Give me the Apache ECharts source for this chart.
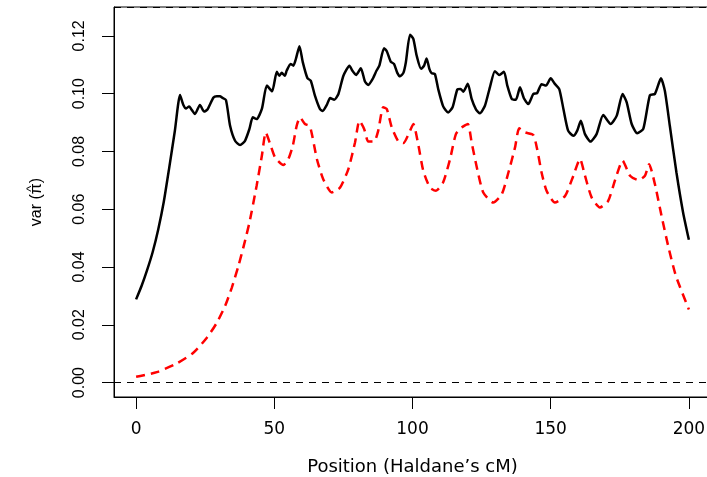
<!DOCTYPE html>
<html>
<head>
<meta charset="utf-8">
<script src="https://cdn.jsdelivr.net/npm/echarts@6/dist/echarts.min.js"></script>
<style>
html,body{margin:0;padding:0;background:#fff;}
#c{width:707px;height:477px;}
</style>
</head>
<body>
<div id="c"></div>
<script>
var xTicks = [0, 50, 100, 150, 200];
var yTicks = [0, 0.02, 0.04, 0.06, 0.08, 0.10, 0.12];
var refLines = [0, 0.125];

var blackPos = [0,2,4,6,8,10,12,14,15.9,17.1,18.1,19.2,19.9,21.3,23.1,24.6,25.8,28.0,29.2,30.4,31.0,32.5,34.0,35.8,37.6,39.4,41.0,42.2,43.6,45.5,47.3,49.2,50.9,51.8,52.7,53.8,54.5,55.9,56.9,57.8,59.1,60.3,62.0,63.2,64.7,66.5,67.5,69.0,70.2,71.7,73.2,75.0,77.2,78.2,79.6,81.3,82.8,84.0,85.6,87.0,88.0,89.7,90.7,92.1,93.3,94.5,95.5,96.7,97.6,99.1,100.3,101.5,103.1,104.2,105.1,106.1,106.9,108.1,109.3,111.1,112.9,114.5,116.2,117.4,118.4,120.0,121.4,123.0,124.4,126.2,128.0,129.8,131.4,133.1,134.3,135.9,137.4,138.9,140.3,141.9,143.7,145.1,146.7,148.3,150.0,151.5,153.1,154.6,156.3,158.2,159.6,160.9,162.4,164.4,166.6,169.0,171.7,173.9,176.0,177.5,179.3,181.3,183.5,185.9,187.7,189.9,191.3,193.1,195.5,197.9,200.0];
var blackVar = [0.0288,0.0335,0.0390,0.0452,0.0530,0.0625,0.0745,0.0870,0.0995,0.0961,0.0949,0.0956,0.0947,0.0930,0.0961,0.0938,0.0945,0.0987,0.0991,0.0991,0.0987,0.0978,0.0889,0.0837,0.0822,0.0837,0.0878,0.0918,0.0912,0.0947,0.1028,0.1008,0.1076,0.1062,0.1072,0.1062,0.1080,0.1103,0.1097,0.1120,0.1164,0.1109,0.1053,0.1045,0.0993,0.0947,0.0940,0.0961,0.0985,0.0979,0.0999,0.1062,0.1097,0.1080,0.1065,0.1088,0.1042,0.1030,0.1051,0.1080,0.1097,0.1157,0.1147,0.1111,0.1103,0.1072,0.1060,0.1072,0.1109,0.1204,0.1190,0.1132,0.1086,0.1097,0.1122,0.1086,0.1071,0.1068,0.1016,0.0956,0.0935,0.0953,0.1014,0.1016,0.1007,0.1034,0.0982,0.0945,0.0932,0.0958,0.1022,0.1078,0.1065,0.1076,0.1028,0.0982,0.0979,0.1022,0.0984,0.0964,0.0999,0.1002,0.1033,0.1028,0.1053,0.1034,0.1016,0.0947,0.0872,0.0854,0.0872,0.0906,0.0860,0.0834,0.0860,0.0926,0.0895,0.0924,0.0999,0.0970,0.0895,0.0863,0.0878,0.0995,0.0999,0.1053,0.1010,0.0889,0.0727,0.0589,0.0494];

var redPos = [0,7.5,14.7,20.7,25.6,29.2,32.2,34.6,37.0,39.1,41.0,43.6,45.5,46.9,48.5,50.3,53.3,55.1,56.7,58.1,59.3,61.1,62.9,65.4,67.7,70.8,73.8,76.8,79.2,80.8,82.5,84.0,86.1,87.6,89.4,90.7,92.5,94.9,96.7,98.7,100.3,102.1,103.9,106.3,108.5,111.1,113.6,115.7,117.8,120.0,121.4,123.4,125.6,129.2,132.3,134.7,137.1,138.6,140.7,143.7,145.1,146.7,148.5,151.5,155.2,158.2,160.6,162.4,164.8,167.8,170.8,173.6,176.0,178.7,181.7,184.1,185.6,187.7,190.1,192.5,195.3,200.0];
var redVar = [0.0020,0.0036,0.0066,0.0103,0.0155,0.0207,0.0265,0.0328,0.0403,0.0479,0.0554,0.0681,0.0785,0.0866,0.0826,0.0779,0.0753,0.0774,0.0820,0.0889,0.0918,0.0895,0.0887,0.0774,0.0704,0.0658,0.0675,0.0739,0.0831,0.0906,0.0878,0.0834,0.0834,0.0872,0.0953,0.0947,0.0883,0.0834,0.0829,0.0863,0.0895,0.0823,0.0733,0.0675,0.0664,0.0693,0.0774,0.0860,0.0883,0.0895,0.0831,0.0739,0.0658,0.0623,0.0652,0.0727,0.0814,0.0880,0.0866,0.0857,0.0808,0.0727,0.0664,0.0623,0.0646,0.0716,0.0774,0.0716,0.0641,0.0606,0.0629,0.0710,0.0768,0.0716,0.0701,0.0716,0.0756,0.0687,0.0577,0.0473,0.0369,0.0253];

function zip(a, b) { return a.map(function (v, i) { return [v, b[i]]; }); }

// y-axis title "var (π̂)": hat drawn as a small second text line above the π
var yFont = 'Liberation Sans', ySize = 16;
var mctx = document.createElement('canvas').getContext('2d');
mctx.font = ySize + 'px "' + yFont + '"';
var wPre = mctx.measureText('var (').width;
var wPi = mctx.measureText('\u03C0').width;
var wPost = mctx.measureText(')').width;

var chart = echarts.init(document.getElementById('c'), null, {renderer: 'canvas'});
chart.setOption({
  animation: false,
  backgroundColor: '#ffffff',
  grid: {left: 114, right: -4, top: 7, bottom: 80, outerBoundsMode: 'none', containLabel: false,
    show: true, borderColor: '#000', borderWidth: 1, backgroundColor: 'transparent'},
  xAxis: {
    type: 'value', min: -8, max: 208, position: 'bottom',
    name: 'Position (Haldane\u2019s cM)', nameLocation: 'middle', nameGap: 61,
    nameTextStyle: {fontFamily: 'DejaVu Sans', fontSize: 18, color: '#000'},
    axisLine: {show: true, onZero: false, lineStyle: {color: '#000', width: 1}},
    splitLine: {show: false},
    axisTick: {show: true, inside: false, customValues: xTicks, length: 12, lineStyle: {color: '#000', width: 1}},
    axisLabel: {customValues: xTicks, margin: 24, fontFamily: 'DejaVu Sans', fontSize: 17, color: '#000'}
  },
  yAxis: {
    type: 'value', min: -0.005, max: 0.130, position: 'left',
    name: '{p| }{h|^}{q| }\n{t|var (\u03C0)}', nameLocation: 'middle', nameGap: 72,
    nameTextStyle: {
      fontFamily: yFont, fontSize: ySize, color: '#000',
      rich: {
        p: {width: wPre, fontSize: 10, lineHeight: 2},
        h: {width: wPi, align: 'center', fontFamily: yFont, fontSize: 13, lineHeight: 2, color: '#000'},
        q: {width: wPost, fontSize: 10, lineHeight: 2},
        t: {fontFamily: yFont, fontSize: ySize, lineHeight: 10, color: '#000'}
      }
    },
    axisLine: {show: true, onZero: false, lineStyle: {color: '#000', width: 1}},
    splitLine: {show: false},
    axisTick: {show: true, inside: false, customValues: yTicks, length: 12, lineStyle: {color: '#000', width: 1}},
    axisLabel: {customValues: yTicks, rotate: 90, margin: 26, fontFamily: 'Liberation Sans', fontSize: 16, color: '#000',
      formatter: function (v) { return v.toFixed(2); }}
  },
  series: [
    {
      type: 'line', data: zip(blackPos, blackVar), smooth: 0.2, showSymbol: false,
      lineStyle: {color: '#000', width: 2.5}, silent: true,
      markLine: {
        silent: true, symbol: ['none', 'none'], label: {show: false},
        lineStyle: {color: '#000', width: 1, type: [7, 6]},
        data: refLines.map(function (v) { return {yAxis: v}; })
      }
    },
    {
      type: 'line', data: zip(redPos, redVar), smooth: 0.2, showSymbol: false,
      lineStyle: {color: '#ff0000', width: 2.5, type: [9, 6]}, silent: true
    }
  ]
});
</script>
</body>
</html>
